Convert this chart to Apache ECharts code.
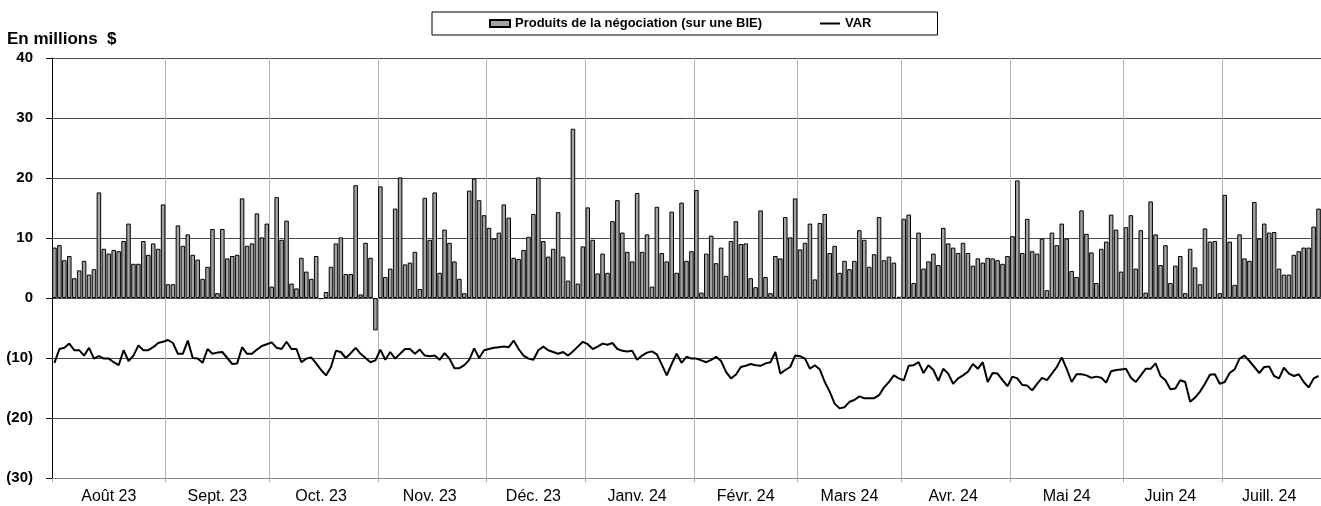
<!DOCTYPE html>
<html>
<head>
<meta charset="utf-8">
<script src="https://cdn.jsdelivr.net/npm/echarts@6/dist/echarts.min.js"></script>
<style>
  html, body { margin: 0; padding: 0; background: #fff; }
  #chart { width: 1321px; height: 506px; }
</style>
</head>
<body>
<div id="chart"></div>
<script>
// months shown on the axis and the number of trading days in each
const monthLabels = ['Août 23', 'Sept. 23', 'Oct. 23', 'Nov. 23', 'Déc. 23', 'Janv. 24',
                     'Févr. 24', 'Mars 24', 'Avr. 24', 'Mai 24', 'Juin 24', 'Juill. 24'];
const monthDays = [23, 21, 22, 22, 20, 22, 21, 21, 22, 23, 20, 20];

// Produits de la négociation (sur une BIE), one value per day
const produits = [
  8.4, 8.8, 6.3, 7.0, 3.3, 4.6, 6.2, 3.9, 4.8, 17.6, 8.2, 7.4, 8.0, 7.8, 9.5, 12.4, 5.7, 5.7, 9.5, 7.2, 9.1, 8.2, 15.6,
  2.3, 2.3, 12.1, 8.7, 10.6, 7.2, 6.4, 3.2, 5.2, 11.5, 0.8, 11.5, 6.6, 7.0, 7.2, 16.6, 8.7, 9.1, 14.1, 10.1, 12.4,
  1.9, 16.8, 9.7, 12.9, 2.4, 1.6, 6.7, 4.4, 3.2, 7.0, -0.2, 1.0, 5.2, 9.1, 10.1, 4.0, 4.0, 18.8, 0.6, 9.2, 6.7, -5.4,
  18.6, 3.5, 4.9, 14.9, 20.1, 5.6, 5.9, 7.7, 1.5, 16.7, 9.7, 17.6, 4.2, 11.4, 9.2, 6.1, 3.2, 0.8, 17.9, 19.9, 16.3, 13.8,
  11.7, 9.9, 10.9, 15.6, 13.4, 6.7, 6.5, 8.0, 10.2, 14.0, 20.1, 9.5, 6.9, 8.2, 14.3, 6.9, 2.9, 28.2, 2.4, 8.6,
  15.1, 9.7, 4.1, 7.4, 4.2, 12.8, 16.3, 10.9, 7.7, 6.1, 17.5, 7.7, 10.6, 1.9, 15.2, 7.5, 6.1, 14.4, 4.2, 15.9, 6.2, 7.8,
  18.0, 0.9, 7.4, 10.4, 5.8, 8.4, 3.7, 9.5, 12.8, 9.0, 9.1, 3.3, 1.8, 14.6, 3.5, 0.8, 7.0, 6.6, 13.5, 10.1, 16.6,
  8.1, 9.2, 12.4, 3.1, 12.5, 14.0, 7.5, 8.7, 4.2, 6.2, 4.8, 6.2, 11.3, 9.7, 5.2, 7.3, 13.5, 6.3, 6.9, 5.9, 0.2,
  13.2, 13.9, 2.5, 10.9, 4.9, 6.1, 7.4, 5.5, 11.7, 9.1, 8.4, 7.5, 9.2, 7.5, 5.4, 6.6, 5.9, 6.7, 6.6, 6.3, 5.7, 7.0,
  10.3, 19.6, 7.5, 13.2, 7.8, 7.4, 9.9, 1.3, 10.9, 8.8, 12.4, 9.9, 4.5, 3.5, 14.6, 10.7, 7.6, 2.5, 8.2, 9.4, 13.9, 11.4, 4.4,
  11.8, 13.8, 4.9, 11.3, 0.9, 16.1, 10.6, 5.5, 8.8, 2.5, 5.4, 7.0, 0.8, 8.2, 5.1, 2.3, 11.6, 9.4, 9.5, 0.8,
  17.2, 9.4, 2.2, 10.6, 6.6, 6.2, 16.0, 9.9, 12.4, 10.9, 11.0, 4.9, 3.9, 3.9, 7.2, 7.8, 8.4, 8.4, 11.9, 14.9
];

// VAR, one value per day
const varValues = [
  -10.8, -8.5, -8.3, -7.6, -8.7, -8.7, -9.6, -8.3, -10.1, -9.7, -10.1, -10.1, -10.7, -11.2, -8.7, -10.5, -9.6, -7.9, -8.7, -8.7, -8.2, -7.5, -7.3,
  -7.0, -7.5, -9.3, -9.3, -7.1, -10.0, -10.1, -10.8, -8.5, -9.3, -9.1, -9.0, -10.0, -11.0, -10.9, -8.2, -9.3, -9.3, -8.6, -8.0, -7.7,
  -7.4, -8.3, -8.5, -7.3, -8.5, -8.5, -10.7, -10.1, -9.9, -10.9, -12.0, -12.9, -11.5, -8.8, -9.0, -10.0, -9.2, -8.3, -9.3, -10.0, -10.7, -10.4,
  -8.6, -10.3, -9.0, -10.1, -9.3, -8.5, -8.5, -9.3, -8.6, -9.6, -9.7, -9.6, -10.3, -9.2, -10.1, -11.7, -11.7, -11.2, -10.3, -8.4, -10.0, -8.7,
  -8.5, -8.3, -8.2, -8.1, -8.2, -7.1, -8.5, -9.6, -10.1, -10.3, -8.7, -8.1, -8.7, -9.0, -9.3, -9.0, -9.6, -8.9, -8.1, -7.3,
  -7.7, -8.5, -8.1, -7.6, -7.8, -7.5, -8.5, -8.8, -8.9, -8.8, -10.3, -9.6, -9.1, -8.9, -9.4, -11.1, -12.9, -11.0, -9.3, -10.8, -9.8, -10.1,
  -10.1, -10.4, -10.7, -10.3, -9.8, -10.5, -12.3, -13.4, -12.8, -11.5, -11.3, -11.0, -11.2, -11.3, -10.9, -10.7, -9.0, -12.6, -12.0, -11.5, -9.6,
  -9.7, -10.1, -11.8, -11.2, -11.9, -14.0, -15.6, -17.6, -18.4, -18.2, -17.3, -17.0, -16.4, -16.7, -16.7, -16.7, -16.2, -14.9, -14.0, -12.9, -13.4,
  -13.7, -11.3, -11.2, -10.7, -12.5, -11.2, -12.0, -13.8, -11.8, -12.6, -14.3, -13.4, -12.9, -12.3, -11.0, -11.8, -10.7, -14.0, -12.5, -12.6, -13.7, -14.7,
  -13.1, -13.4, -14.5, -14.6, -15.4, -14.3, -13.3, -13.7, -12.6, -11.5, -9.9, -11.8, -14.0, -12.7, -12.7, -12.9, -13.3, -13.1, -13.3, -14.1, -12.2, -12.0, -11.9,
  -11.8, -13.3, -14.0, -12.9, -11.8, -11.8, -10.9, -13.0, -13.7, -15.2, -15.1, -13.7, -14.0, -17.3, -16.6, -15.6, -14.3, -12.8, -12.7, -14.3,
  -14.0, -12.5, -11.9, -10.1, -9.6, -10.5, -11.5, -12.5, -11.5, -11.4, -13.0, -13.4, -11.6, -12.6, -13.0, -12.7, -14.0, -14.9, -13.4, -13.0
];

// one category per day, remembering where each month starts and where its label goes
let categories = [];
let monthStart = {};
let labelAt = {};
monthDays.forEach((n, m) => {
  let start = categories.length;
  monthStart[start] = true;
  labelAt[start + Math.floor((n - 1) / 2)] = monthLabels[m];
  for (let d = 0; d < n; d++) categories.push(m + '-' + d);
});

const font = 'Liberation Sans, Arial, sans-serif';
let chart = echarts.init(document.getElementById('chart'), null, { renderer: 'canvas' });

chart.setOption({
  animation: false,
  backgroundColor: '#fff',
  title: {
    text: 'En millions  $',
    left: 2,
    top: 26,
    textStyle: { fontFamily: font, fontSize: 17, fontWeight: 'bold', color: '#000' }
  },
  legend: {
    data: [
      { name: 'Produits de la négociation (sur une BIE)', icon: 'rect' },
      { name: 'VAR', icon: 'path://M0,0 L20,0 L20,2 L0,2 Z' }
    ],
    left: 432,
    top: 12,
    padding: [5, 66, 5, 57],
    itemGap: 58,
    itemWidth: 20,
    itemHeight: 7,
    borderColor: '#000',
    borderWidth: 1,
    textStyle: { fontFamily: font, fontSize: 13, fontWeight: 'bold', color: '#000' }
  },
  grid: { left: 52, right: 0, top: 58, bottom: 28, containLabel: false },
  xAxis: {
    type: 'category',
    data: categories,
    boundaryGap: true,
    axisLine: { onZero: false, lineStyle: { color: '#888', width: 1 } },
    axisTick: {
      show: true,
      length: 4,
      interval: (i) => !!monthStart[i],
      lineStyle: { color: '#aaa' }
    },
    splitLine: {
      show: true,
      interval: (i) => !!monthStart[i],
      lineStyle: { color: '#b4b4b4', width: 1 }
    },
    axisLabel: {
      interval: (i) => labelAt[i] !== undefined,
      formatter: (v, i) => labelAt[i] || '',
      fontFamily: font,
      fontSize: 16,
      color: '#000',
      margin: 11
    }
  },
  yAxis: {
    type: 'value',
    min: -30,
    max: 40,
    interval: 10,
    axisLine: { show: true, lineStyle: { color: '#000', width: 1 } },
    axisTick: { show: true, length: 6, lineStyle: { color: '#000' } },
    splitLine: { show: true, lineStyle: { color: '#4a4a4a', width: 1 } },
    axisLabel: {
      formatter: (v) => v < 0 ? '(' + (-v) + ')' : String(v),
      fontFamily: font,
      fontSize: 15,
      fontWeight: 'bold',
      color: '#000',
      margin: 19
    }
  },
  series: [
    {
      name: 'Produits de la négociation (sur une BIE)',
      type: 'bar',
      data: produits,
      barCategoryGap: '8%',
      itemStyle: { color: '#a3a3a3', borderColor: '#000', borderWidth: 1 }
    },
    {
      name: 'VAR',
      type: 'line',
      data: varValues,
      symbol: 'none',
      lineStyle: { color: '#000', width: 2 },
      itemStyle: { color: '#000' }
    }
  ]
});
</script>
</body>
</html>
